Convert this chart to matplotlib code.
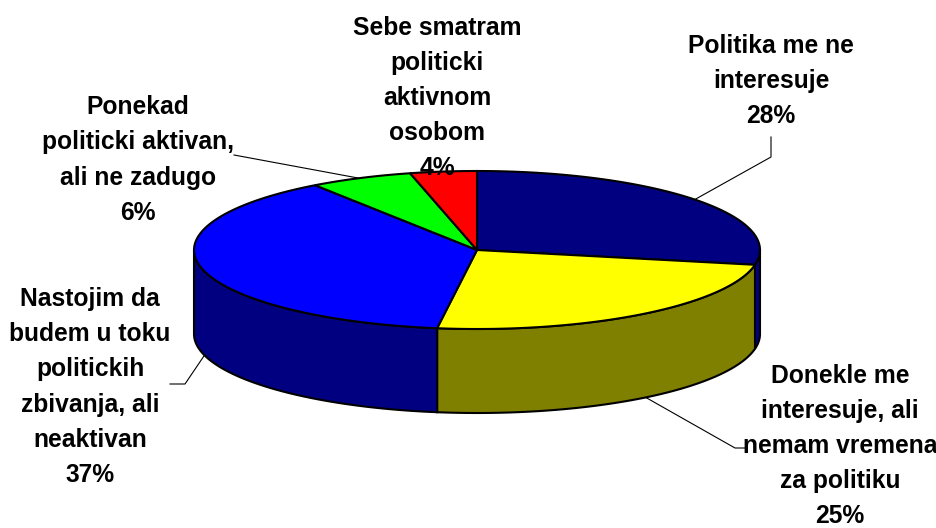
import numpy as np
import matplotlib
matplotlib.use("Agg")
import matplotlib.pyplot as plt

labels = ["Politika me ne\ninteresuje\n28%",
          "Donekle me\ninteresuje, ali\nnemam vremena\nza politiku\n25%",
          "Nastojim da\nbudem u toku\npolitickih\nzbivanja, ali\nneaktivan\n37%",
          "Ponekad\npoliticki aktivan,\nali ne zadugo\n6%",
          "Sebe smatram\npoliticki\naktivnom\nosobom\n4%"]
values = [28, 24.25, 38.05, 5.9, 3.8]
top_colors = ["#000080", "#ffff00", "#0000ff", "#00ff00", "#ff0000"]
side_colors = ["#000080", "#808000", "#000080", "#008000", "#800000"]
label_pos = [(771, 81), (840, 446), (90, 387), (138, 160), (437, 98)]
leaders = [[(771, 137), (771, 157), (694, 200)],
           [(645, 397), (735, 448), (745, 448)],
           [(208, 350), (185, 384), (170, 384)],
           [(358, 178), (234, 155)]]

cx, cy, rx, ry, depth = 477, 250, 283, 79, 84

fig = plt.figure(figsize=(9.37, 5.28), dpi=100)
ax = fig.add_axes([0, 0, 1, 1])
ax.set_xlim(0, 937)
ax.set_ylim(528, 0)
ax.axis("off")

def ell(a):
    # angle clockwise from the top of the pie
    return cx + rx * np.sin(a), cy - ry * np.cos(a)

edges = np.cumsum([0] + values) / sum(values) * 2 * np.pi

# side wall
for i in range(len(values)):
    a0 = edges[i]
    a1 = edges[i + 1]
    # only the front half is seen
    a0 = max(a0, np.pi / 2)
    a1 = min(a1, 3 * np.pi / 2)
    if a1 <= a0:
        continue
    t = np.linspace(a0, a1, 100)
    x, y = ell(t)
    ax.fill(np.r_[x, x[::-1]], np.r_[y, y[::-1] + depth],
            facecolor=side_colors[i], edgecolor="black", lw=1.5, zorder=2)

# top
for i in range(len(values)):
    t = np.linspace(edges[i], edges[i + 1], 100)
    x, y = ell(t)
    ax.fill(np.r_[cx, x], np.r_[cy, y], facecolor=top_colors[i],
            edgecolor="black", lw=1.5, zorder=3)

for pts in leaders:
    p = np.array(pts)
    ax.plot(p[:, 0], p[:, 1], color="black", lw=0.8, zorder=1)

for s, (x, y) in zip(labels, label_pos):
    ax.text(x, y, s, ha="center", va="center", family="Liberation Sans",
            weight="bold", fontsize=17.7, linespacing=1.58, color="black", zorder=5)

fig.savefig("out.png", dpi=100)
